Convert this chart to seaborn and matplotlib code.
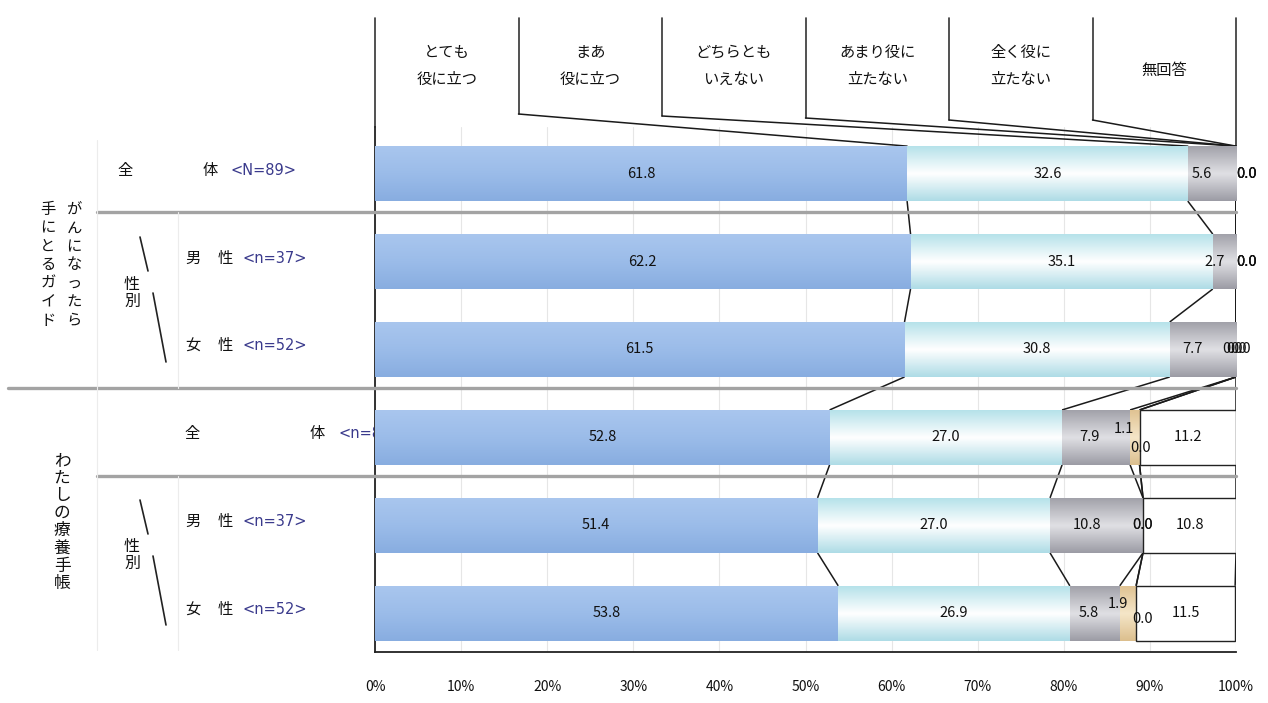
import numpy as np
import pandas as pd
import matplotlib
matplotlib.use("Agg")
import matplotlib.pyplot as plt
import seaborn as sns
from matplotlib.lines import Line2D
from matplotlib.patches import Rectangle
from matplotlib.transforms import Bbox, TransformedBbox, blended_transform_factory

# ---- data -------------------------------------------------------------
categories = ["とても\n役に立つ", "まあ\n役に立つ", "どちらとも\nいえない",
              "あまり役に\n立たない", "全く役に\n立たない", "無回答"]
row_keys = ["guide_all", "guide_male", "guide_female",
            "note_all", "note_male", "note_female"]
group_names = ["がんになったら", "手にとるガイド", "わたしの療養手帳"]
row_heads = ["全", "男", "女", "全", "男", "女"]
row_tails = ["体", "性", "性", "体", "性", "性"]
row_sizes = ["<N=89>", "<n=37>", "<n=52>", "<n=89>", "<n=37>", "<n=52>"]

very_useful = [61.8, 62.2, 61.5, 52.8, 51.4, 53.8]
somewhat_useful = [32.6, 35.1, 30.8, 27.0, 27.0, 26.9]
neutral = [5.6, 2.7, 7.7, 7.9, 10.8, 5.8]
not_very_useful = [0.0, 0.0, 0.0, 1.1, 0.0, 1.9]
not_useful_at_all = [0.0, 0.0, 0.0, 0.0, 0.0, 0.0]
no_answer = [0.0, 0.0, 0.0, 11.2, 10.8, 11.5]

x_ticks = [0, 10, 20, 30, 40, 50, 60, 70, 80, 90, 100]
x_tick_labels = ["0%", "10%", "20%", "30%", "40%", "50%",
                 "60%", "70%", "80%", "90%", "100%"]

# ---- styling ----------------------------------------------------------
W, H = 1268, 703
sns.set_theme(style="white")
plt.rcParams["font.family"] = ["Noto Sans CJK JP", "DejaVu Sans"]

base_colors = ["#97b8e6", "#d8f0f4", "#c4c4ca", "#ead3ab", "#f3ecb0", "#ffffff"]
# vertical colour stops (top, middle, bottom) for the shaded bars
shades = [
    ["#a9c6ee", "#9bbce9", "#88ade0"],
    ["#b6e2ea", "#ffffff", "#aedce6"],
    ["#a2a2aa", "#e0e0e4", "#9c9ca5"],
    ["#e0c393", "#f5e6c8", "#dcbf8e"],
    ["#eee39a", "#faf6d6", "#ebdf92"],
    None,
]
BAR_H = 0.625

vals = np.array([very_useful, somewhat_useful, neutral,
                 not_very_useful, not_useful_at_all, no_answer]).T
cum = vals.cumsum(axis=1)
cols = [f"c{k}" for k in range(len(categories))]
df = pd.DataFrame(cum, columns=cols)
df["row"] = row_keys

fig = plt.figure(figsize=(W / 100, H / 100), dpi=100)
fig.patch.set_facecolor("white")
ax_l, ax_r, ax_t, ax_b = 375, 1236, 127, 652
ax = fig.add_axes([ax_l / W, 1 - ax_b / H, (ax_r - ax_l) / W, (ax_b - ax_t) / H])

def fx(px):
    return px / W

def fy(py):
    return 1 - py / H

# stacked bars: cumulative totals drawn from the widest layer down
for k in reversed(range(len(categories))):
    sns.barplot(data=df, x=cols[k], y="row", order=row_keys, orient="h",
                color=base_colors[k], saturation=1, width=BAR_H,
                edgecolor="none", linewidth=0, ax=ax, zorder=2)

ax.set_xlim(0, 100)
ax.set_ylim(5.44, -0.53)

# bar geometry from the drawn patches
first_layer = ax.containers[-1]
bar_y = [p.get_y() for p in first_layer.patches]
bar_h = [p.get_height() for p in first_layer.patches]

def ramp(stops, n=64):
    rgb = np.array([matplotlib.colors.to_rgb(c) for c in stops])
    t = np.linspace(0, 1, n)
    pos = np.linspace(0, 1, len(stops))
    return np.stack([np.interp(t, pos, rgb[:, c]) for c in range(3)], axis=1)[:, None, :]

for i in range(len(row_keys)):
    for k in range(len(categories)):
        if vals[i, k] <= 0 or shades[k] is None:
            continue
        left = cum[i, k] - vals[i, k]
        ax.imshow(ramp(shades[k]), extent=(left, cum[i, k], bar_y[i] + bar_h[i], bar_y[i]),
                  aspect="auto", interpolation="bilinear", zorder=3)
    if no_answer[i] > 0:
        ax.add_patch(Rectangle((cum[i, 4], bar_y[i]), no_answer[i], bar_h[i],
                               fill=False, edgecolor="#222222", lw=1.0, zorder=4))

ax.set_xlim(0, 100)
ax.set_ylim(5.44, -0.53)

# series lines joining the segment edges of neighbouring bars
for i in range(len(row_keys) - 1):
    for k in range(len(categories)):
        ax.plot([cum[i, k], cum[i + 1, k]],
                [bar_y[i] + bar_h[i], bar_y[i + 1]],
                color="#1a1a1a", lw=1.1, zorder=1.5, solid_capstyle="butt")

# value labels
label_shift = {
    (0, 2): (-10, 0), (1, 2): (-10, 0), (2, 2): (-10, 0),
    (3, 2): (-7, 0), (4, 2): (-10, 0), (5, 2): (-6, 0),
    (0, 3): (11, 0), (0, 4): (11, 0), (0, 5): (11, 0),
    (1, 3): (11, 0), (1, 4): (11, 0), (1, 5): (11, 0),
    (2, 3): (-3, 0), (2, 4): (1, 0), (2, 5): (5, 0),
    (3, 3): (-11, -8), (3, 4): (1, 11),
    (5, 3): (-10, -9), (5, 4): (6, 6),
}
for i in range(len(row_keys)):
    yc = bar_y[i] + bar_h[i] / 2
    for k in range(len(categories)):
        if k == 5 and i < 3:
            xc = cum[i, k]
        else:
            xc = cum[i, k] - vals[i, k] / 2
        dx, dy = label_shift.get((i, k), (0, 0))
        ax.annotate(f"{vals[i, k]:.1f}", (xc, yc), xytext=(dx * 0.72, -dy * 0.72),
                    textcoords="offset points", ha="center", va="center",
                    fontsize=10.5, color="#111111", zorder=6)

# axes decoration
ax.set_yticks([])
ax.set_ylabel("")
ax.set_xlabel("")
ax.set_xticks(x_ticks)
ax.set_xticklabels(x_tick_labels, fontsize=10, color="#111111")
ax.tick_params(axis="x", direction="in", length=4, width=1.2, color="#333333", pad=20)
ax.xaxis.grid(True, color="#e6e6e6", lw=0.8)
ax.set_axisbelow(True)
for side in ["top", "right"]:
    ax.spines[side].set_visible(False)
for side in ["left", "bottom"]:
    ax.spines[side].set_visible(True)
    ax.spines[side].set_color("#222222")
    ax.spines[side].set_linewidth(1.3)
ax.set_facecolor("white")

# header boxes with the answer categories
to_fig = fig.transFigure.inverted()
def fig_y_of(yd):
    return to_fig.transform(ax.transData.transform((0, yd)))[1]

hdr = blended_transform_factory(ax.transData, fig.transFigure)
n = len(categories)
box_edges = [100 * k / n for k in range(n + 1)]
box_bottoms = [127, 114, 116, 118, 120, 120, 147]
for k, xe in enumerate(box_edges):
    ax.add_line(Line2D([xe, xe], [fy(18), fy(box_bottoms[k])], transform=hdr,
                       color="#333333", lw=1.2, clip_on=False))
bar_top = fig_y_of(bar_y[0])
for k in range(1, n):
    ax.add_line(Line2D([box_edges[k], cum[0, k - 1]], [fy(box_bottoms[k]), bar_top],
                       transform=hdr, color="#1a1a1a", lw=1.1, clip_on=False))
for k, name in enumerate(categories):
    xc = (box_edges[k] + box_edges[k + 1]) / 2
    ax.text(xc, fy(66 if "\n" in name else 70), name, transform=hdr,
            ha="center", va="center", fontsize=11, linespacing=1.75,
            color="#111111", clip_on=False)

# row labels on the left
lab = blended_transform_factory(fig.transFigure, ax.transData)
head_x = [117, 185, 185, 184, 185, 185]
tail_x = [203, 218, 218, 310, 218, 218]
size_x = [230, 243, 243, 338, 243, 243]
clip_left = TransformedBbox(Bbox([[0, 0], [fx(374), 1]]), fig.transFigure)
for i in range(len(row_keys)):
    yc = bar_y[i] + bar_h[i] / 2 - 0.04
    fig.text(fx(head_x[i]), yc, row_heads[i], transform=lab, ha="left", va="center",
             fontsize=11, color="#111111")
    fig.text(fx(tail_x[i]), yc, row_tails[i], transform=lab, ha="left", va="center",
             fontsize=11, color="#111111")
    t = fig.text(fx(size_x[i]), yc, row_sizes[i], transform=lab, ha="left", va="center",
                 fontsize=10.5, color="#3a3a8c", family=["DejaVu Sans"])
    t.set_clip_on(True)
    t.set_clip_box(clip_left)

# group titles written vertically
def vertical(s):
    return "\n".join(s)

fig.text(fx(74), fy(265), vertical(group_names[0]), ha="center", va="center",
         fontsize=11, linespacing=1.12, color="#111111")
fig.text(fx(48), fy(265), vertical(group_names[1]), ha="center", va="center",
         fontsize=11, linespacing=1.12, color="#111111")
fig.text(fx(62), fy(522), vertical(group_names[2]), ha="center", va="center",
         fontsize=12, linespacing=1.05, color="#111111")
for yc in (293, 555):
    fig.text(fx(132), fy(yc), "性\n別", ha="center", va="center",
             fontsize=11.5, linespacing=1.05, color="#111111")

# diagonal strokes around the 性別 labels
for y0 in (0, 263):
    for (x1, y1, x2, y2) in [(140, 237, 148, 271), (153, 293, 166, 362)]:
        fig.add_artist(Line2D([fx(x1), fx(x2)], [fy(y1 + y0), fy(y2 + y0)],
                              color="#222222", lw=1.2))

# grey separators between row groups
for (x0, py) in [(97, 212), (8, 388), (97, 476)]:
    fig.add_artist(Line2D([fx(x0), fx(ax_r)], [fy(py), fy(py)],
                          color="#a3a3a3", lw=2.4, zorder=1))

# faint table rules in the label area
for (x0, y0, y1) in [(97, 140, 650), (178, 212, 388), (178, 476, 650)]:
    fig.add_artist(Line2D([fx(x0), fx(x0)], [fy(y0), fy(y1)], color="#ececec", lw=0.8))

fig.savefig("out.png", dpi=100, facecolor="white")
